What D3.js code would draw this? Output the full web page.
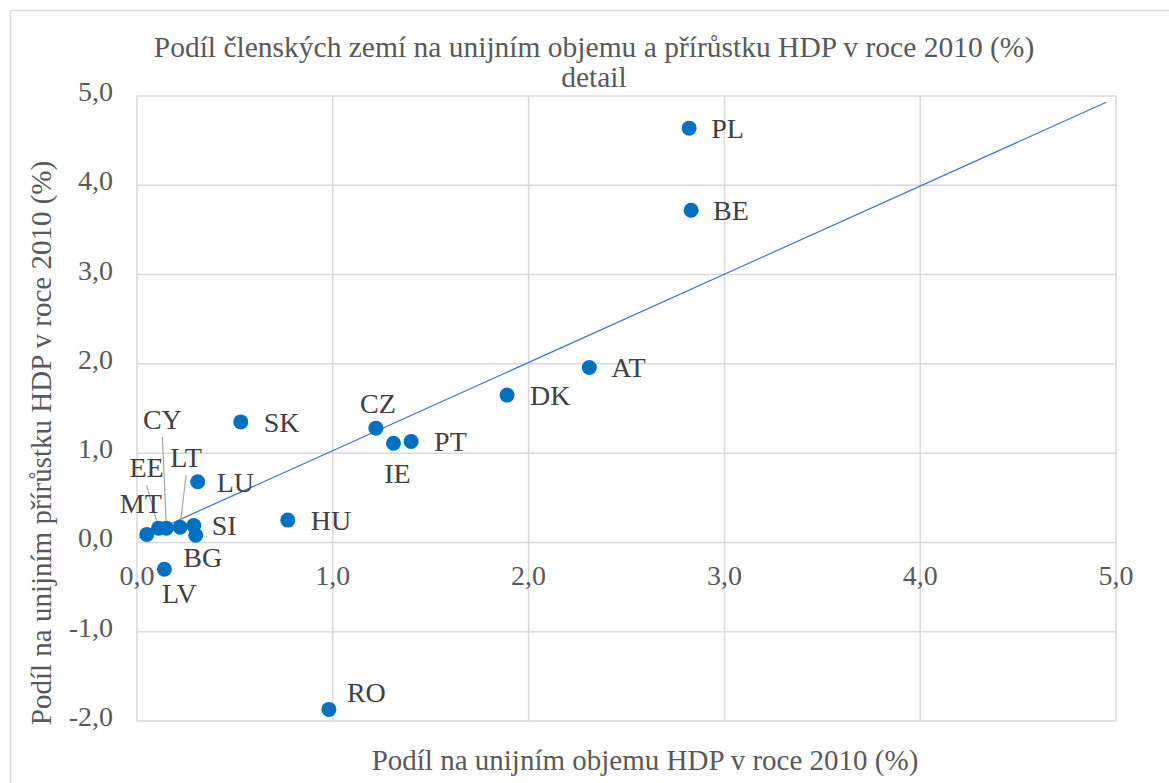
<!DOCTYPE html>
<html>
<head>
<meta charset="utf-8">
<script src="https://cdn.jsdelivr.net/npm/d3@7"></script>
<style>
  body { margin: 0; background: #fff; }
  .grid line { stroke: #d9d9d9; stroke-width: 1.5; }
</style>
</head>
<body>
<div id="chart"></div>
<script>
// data
var countries = ["PL", "BE", "AT", "DK", "CZ", "IE", "PT", "HU", "SK", "LU", "SI", "BG", "LV", "RO", "MT", "EE", "CY", "LT"];
var volumeShare = [2.82, 2.83, 2.31, 1.89, 1.22, 1.31, 1.40, 0.77, 0.53, 0.31, 0.29, 0.30, 0.14, 0.98, 0.05, 0.11, 0.15, 0.22];
var growthShare = [4.64, 3.72, 1.96, 1.65, 1.28, 1.11, 1.13, 0.25, 1.35, 0.68, 0.19, 0.08, -0.30, -1.87, 0.09, 0.16, 0.16, 0.17];
var trendX = [0.01, 4.95];
var trendY = [0.05, 4.93];
var xTicks = [0, 1, 2, 3, 4, 5];
var yTicks = [-2, -1, 0, 1, 2, 3, 4, 5];

// label placement: offset of the label centre from the point (px), anchor, leader line
var labelPos = {
    PL: [22, 0, "start"], BE: [22, 0, "start"], AT: [22, 0, "start"], DK: [23, 0, "start"],
    CZ: [2, -25, "middle"], IE: [4, 30, "middle"], PT: [23, 0, "start"], HU: [23, 0, "start"],
    SK: [23, 0, "start"], LU: [19, 0, "start"], SI: [18, 0, "start"], BG: [7, 22, "middle"],
    LV: [15, 24, "middle"], RO: [18, -17, "start"], MT: [-6, -31, "middle"],
    EE: [-12, -61, "middle", true], CY: [-4, -109, "middle", true], LT: [6, -70, "middle", true]
};

var serif = "Liberation Serif";

var svgWidth = 1169;
var svgHeight = 783;

var svg = d3.select("#chart")
    .append("svg")
    .attr("width", svgWidth)
    .attr("height", svgHeight);

// small helper so every text gets the serif face
function addText(sel, size, color) {
    return sel.style("font-family", serif)
        .style("font-size", size + "px")
        .attr("fill", color || "#595959");
}

// chart border
svg.append("rect")
    .attr("x", 10.5).attr("y", 10.5)
    .attr("width", 1200).attr("height", 800)
    .attr("fill", "none")
    .attr("stroke", "#d9d9d9")
    .attr("stroke-width", 1.5);

var x = d3.scaleLinear().domain([0, 5]).range([137, 1116]);
var y = d3.scaleLinear().domain([-2, 5]).range([721, 96]);

var fmt = d => d.toFixed(1).replace(".", ",");

// gridlines
var grid = svg.append("g").attr("class", "grid");
grid.selectAll(".gx").data(xTicks).enter().append("line")
    .attr("x1", d => x(d)).attr("x2", d => x(d))
    .attr("y1", y(5)).attr("y2", y(-2));
grid.selectAll(".gy").data(yTicks).enter().append("line")
    .attr("x1", x(0)).attr("x2", x(5))
    .attr("y1", d => y(d)).attr("y2", d => y(d));

// tick labels
addText(svg.selectAll(".ytick").data(yTicks).enter().append("text"), 28)
    .attr("x", 113)
    .attr("y", d => y(d) + 5)
    .attr("text-anchor", "end")
    .text(fmt);

addText(svg.selectAll(".xtick").data(xTicks).enter().append("text"), 28)
    .attr("x", d => x(d))
    .attr("y", y(0) + 43)
    .attr("text-anchor", "middle")
    .text(fmt);

// trend line
svg.append("line")
    .attr("x1", x(trendX[0])).attr("y1", y(trendY[0]))
    .attr("x2", x(trendX[1])).attr("y2", y(trendY[1]))
    .attr("stroke", "#4472c4")
    .attr("stroke-width", 1.2);

var points = countries.map((c, i) => ({ name: c, vx: volumeShare[i], vy: growthShare[i] }));

// leader lines
svg.selectAll(".leader").data(points.filter(d => labelPos[d.name][3])).enter().append("line")
    .attr("x1", d => x(d.vx)).attr("y1", d => y(d.vy) - 1)
    .attr("x2", d => x(d.vx) + labelPos[d.name][0]).attr("y2", d => y(d.vy) + labelPos[d.name][1] + 18)
    .attr("stroke", "#a6a6a6")
    .attr("stroke-width", 1.2);

svg.selectAll("circle").data(points).enter().append("circle")
    .attr("cx", d => x(d.vx))
    .attr("cy", d => y(d.vy))
    .attr("r", 7.5)
    .attr("fill", "#0070c0");

addText(svg.selectAll(".lbl").data(points).enter().append("text"), 28, "#404040")
    .attr("x", d => x(d.vx) + labelPos[d.name][0])
    .attr("y", d => y(d.vy) + labelPos[d.name][1])
    .attr("dy", "0.35em")
    .attr("text-anchor", d => labelPos[d.name][2])
    .text(d => d.name);

// titles
addText(svg.append("text"), 29.5)
    .attr("x", 594).attr("y", 57)
    .attr("text-anchor", "middle")
    .text("Podíl členských zemí na unijním objemu a přírůstku HDP v roce 2010 (%)");
addText(svg.append("text"), 29.5)
    .attr("x", 594).attr("y", 87)
    .attr("text-anchor", "middle")
    .text("detail");

addText(svg.append("text"), 29)
    .attr("x", 645).attr("y", 770)
    .attr("text-anchor", "middle")
    .text("Podíl na unijním objemu HDP v roce 2010 (%)");

addText(svg.append("text"), 29)
    .attr("transform", "translate(51, 443) rotate(-90)")
    .attr("text-anchor", "middle")
    .text("Podíl na unijním přírůstku HDP v roce 2010 (%)");
</script>
</body>
</html>
